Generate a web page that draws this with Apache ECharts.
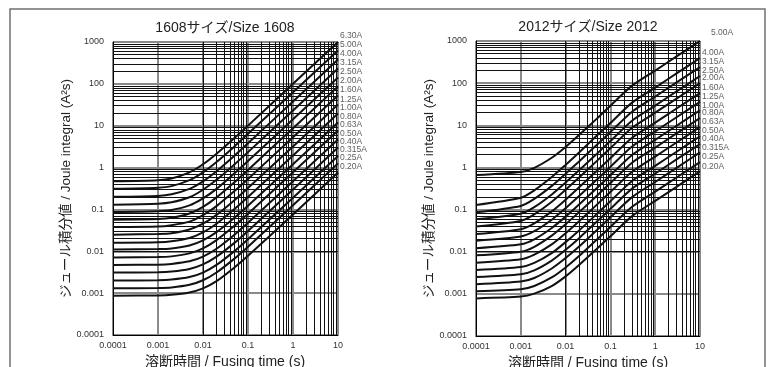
<!DOCTYPE html>
<html>
<head>
<meta charset="utf-8">
<script src="https://cdn.jsdelivr.net/npm/echarts@6/dist/echarts.min.js"></script>
<style>
html,body{margin:0;padding:0;background:#fff;}
#c{width:770px;height:367px;}
</style>
</head>
<body>
<div id="c"></div>
<script>
// ---------- DATA ----------
const chartTitles = ['1608サイズ/Size 1608', '2012サイズ/Size 2012'];
const xTickLabels = ['0.0001', '0.001', '0.01', '0.1', '1', '10'];
const yTickLabels = ['0.0001', '0.001', '0.01', '0.1', '1', '10', '100', '1000'];
const xAxisName = '溶断時間 / Fusing time (s)';
const yAxisName = 'ジュール積分値 / Joule integral (A²s)';

// 1608 size: fusing time (s) and I²t (A²s)
const time1608 = [0.0001, 0.001, 0.002, 0.005, 0.01, 0.02, 0.05, 0.1, 1, 10];
const ratings1608 = ['6.30A', '5.00A', '4.00A', '3.15A', '2.50A', '2.00A', '1.60A', '1.25A', '1.00A', '0.80A', '0.63A', '0.50A', '0.40A', '0.315A', '0.25A', '0.20A'];
const s1608_630 = [0.47, 0.50, 0.55, 0.77, 1.20, 2.15, 5.1, 10.05, 100, 1000];
const s1608_500 = [0.31, 0.33, 0.36, 0.50, 0.77, 1.36, 3.2, 6.4, 63, 630];
const s1608_400 = [0.20, 0.21, 0.23, 0.31, 0.47, 0.82, 1.92, 3.8, 38, 380];
const s1608_315 = [0.13, 0.137, 0.148, 0.195, 0.295, 0.51, 1.19, 2.34, 23.2, 232];
const s1608_250 = [0.087, 0.091, 0.097, 0.125, 0.184, 0.31, 0.73, 1.44, 14.2, 142];
const s1608_200 = [0.057, 0.059, 0.063, 0.080, 0.115, 0.194, 0.445, 0.88, 8.7, 87];
const s1608_160 = [0.038, 0.039, 0.042, 0.051, 0.073, 0.120, 0.274, 0.535, 5.3, 53];
const s1608_125 = [0.025, 0.026, 0.027, 0.033, 0.0455, 0.074, 0.166, 0.325, 3.2, 32];
const s1608_100 = [0.016, 0.0164, 0.0173, 0.0208, 0.0283, 0.0456, 0.102, 0.198, 1.95, 19.5];
const s1608_080 = [0.011, 0.0113, 0.0117, 0.0138, 0.0183, 0.0286, 0.063, 0.122, 1.2, 12];
const s1608_063 = [0.0071, 0.00727, 0.00756, 0.0089, 0.0118, 0.0185, 0.0406, 0.079, 0.77, 7.7];
const s1608_050 = [0.0047, 0.0048, 0.0050, 0.00575, 0.00746, 0.0115, 0.0249, 0.048, 0.47, 4.7];
const s1608_040 = [0.0031, 0.00316, 0.00328, 0.00377, 0.00485, 0.00744, 0.0159, 0.0307, 0.30, 3.0];
const s1608_0315 = [0.0020, 0.00204, 0.00211, 0.00242, 0.0031, 0.00472, 0.0101, 0.0194, 0.19, 1.9];
const s1608_025 = [0.0013, 0.00133, 0.00137, 0.00158, 0.00203, 0.00312, 0.00668, 0.0129, 0.126, 1.26];
const s1608_020 = [0.00087, 0.00088, 0.00091, 0.00104, 0.0013, 0.00193, 0.0041, 0.0078, 0.076, 0.76];
// where each rating label sits (I²t value at the right edge)
const labelAt1608 = [1390, 848, 517, 315, 192, 117, 71, 43, 26.5, 16.1, 10.4, 6.3, 4.1, 2.63, 1.69, 1.03];

// 2012 size
const time2012 = [0.0001, 0.001, 0.002, 0.005, 0.01, 0.02, 0.05, 0.1, 0.3, 1, 3, 10];
const ratings2012 = ['5.00A', '4.00A', '3.15A', '2.50A', '2.00A', '1.60A', '1.25A', '1.00A', '0.80A', '0.63A', '0.50A', '0.40A', '0.315A', '0.25A', '0.20A'];
const s2012_500 = [0.66, 0.78, 0.98, 1.72, 3.06, 5.9, 14.4, 29, 86, 199, 430, 1000];
const s2012_400 = [0.128, 0.19, 0.286, 0.60, 1.15, 2.27, 5.7, 11.3, 34, 78.6, 170, 395];
const s2012_315 = [0.086, 0.122, 0.179, 0.37, 0.71, 1.39, 3.45, 6.9, 20.7, 48, 104, 241];
const s2012_250 = [0.059, 0.080, 0.114, 0.231, 0.437, 0.855, 2.12, 4.23, 12.7, 29.4, 63.6, 148];
const s2012_200 = [0.0395, 0.0538, 0.0768, 0.155, 0.294, 0.575, 1.43, 2.86, 8.6, 19.9, 43, 100];
const s2012_160 = [0.0263, 0.0343, 0.0473, 0.092, 0.172, 0.338, 0.83, 1.66, 5.0, 11.6, 25, 58];
const s2012_125 = [0.0182, 0.0229, 0.0306, 0.0583, 0.108, 0.209, 0.52, 1.03, 3.09, 7.2, 15.5, 36];
const s2012_100 = [0.0121, 0.015, 0.0197, 0.0371, 0.068, 0.132, 0.325, 0.65, 1.95, 4.52, 9.76, 22.7];
const s2012_080 = [0.0082, 0.0100, 0.0131, 0.0245, 0.0449, 0.087, 0.214, 0.427, 1.28, 2.96, 6.4, 14.9];
const s2012_063 = [0.0055, 0.0066, 0.0085, 0.0152, 0.0275, 0.053, 0.131, 0.261, 0.78, 1.81, 3.91, 9.1];
const s2012_050 = [0.0037, 0.00435, 0.00544, 0.0094, 0.0169, 0.032, 0.079, 0.158, 0.47, 1.09, 2.36, 5.5];
const s2012_040 = [0.0025, 0.00292, 0.00362, 0.00625, 0.0111, 0.021, 0.052, 0.104, 0.31, 0.717, 1.55, 3.6];
const s2012_0315 = [0.0017, 0.00196, 0.00238, 0.00405, 0.00706, 0.0133, 0.0328, 0.0655, 0.195, 0.452, 0.976, 2.27];
const s2012_025 = [0.00115, 0.00129, 0.00154, 0.00248, 0.00423, 0.0079, 0.0195, 0.0388, 0.115, 0.267, 0.576, 1.34];
const s2012_020 = [0.00078, 0.00086, 0.00101, 0.00155, 0.0026, 0.00484, 0.0117, 0.0233, 0.069, 0.161, 0.347, 0.81];
const labelAt2012 = [1550, 519, 317, 194, 132, 77, 46.8, 30, 19.5, 11.9, 7.3, 4.7, 3.0, 1.76, 1.07];

// ---------- BUILD ----------
const curves1608 = [s1608_630, s1608_500, s1608_400, s1608_315, s1608_250, s1608_200, s1608_160, s1608_125,
  s1608_100, s1608_080, s1608_063, s1608_050, s1608_040, s1608_0315, s1608_025, s1608_020];
const curves2012 = [s2012_500, s2012_400, s2012_315, s2012_250, s2012_200, s2012_160, s2012_125,
  s2012_100, s2012_080, s2012_063, s2012_050, s2012_040, s2012_0315, s2012_025, s2012_020];

const FONT = '"Liberation Sans", Arial, "Noto Sans CJK JP", sans-serif';

function tickFmt(labels, minExp) {
  return function (v) {
    const i = Math.round(Math.log10(v)) - minExp;
    return labels[i] !== undefined ? labels[i] : '';
  };
}

// minor grid values 2..9 per decade
function minorValues(minExp, maxExp) {
  const out = [];
  for (let e = minExp; e < maxExp; e++) {
    for (let m = 2; m <= 9; m++) out.push(+(m * Math.pow(10, e)).toPrecision(3));
  }
  return out;
}

const grids = [
  { left: 113, top: 42, width: 225, height: 293 },
  { left: 476, top: 41, width: 224, height: 295 }
];

const xAxes = [], yAxes = [], series = [];
[0, 1].forEach(function (g) {
  xAxes.push({
    gridIndex: g, type: 'log', logBase: 10, min: 0.0001, max: 10, interval: 1,
    axisLine: { show: true, lineStyle: { color: '#000', width: 1 } },
    axisTick: { show: false },
    axisLabel: { formatter: tickFmt(xTickLabels, -4), fontSize: 9, color: '#333', margin: 6,
      fontFamily: FONT, showMinLabel: true, showMaxLabel: true },
    splitLine: { show: true, lineStyle: { color: '#8a8a8a', width: 2 } }
  });
  yAxes.push({
    gridIndex: g, type: 'log', logBase: 10, min: 0.0001, max: 1000, interval: 1,
    axisLine: { show: true, lineStyle: { color: '#000', width: 1 } },
    axisTick: { show: false },
    axisLabel: { formatter: tickFmt(yTickLabels, -4), fontSize: 9, color: '#333', margin: 9,
      fontFamily: FONT, showMinLabel: true, showMaxLabel: true },
    splitLine: { show: true, lineStyle: { color: '#8a8a8a', width: 2 } },
    name: yAxisName, nameLocation: 'middle', nameGap: 38, nameRotate: 90,
    nameTextStyle: { fontSize: 13.5, color: '#222', fontFamily: FONT }
  });
  // minor grid lines via markLine
  const xm = minorValues(-4, 1).map(function (v) { return { xAxis: v }; });
  const ym = minorValues(-4, 3).map(function (v) { return { yAxis: v }; });
  series.push({
    type: 'line', xAxisIndex: g, yAxisIndex: g, data: [[0.0001, 0.0001]], showSymbol: false,
    lineStyle: { opacity: 0 }, silent: true, z: 1,
    markLine: { silent: true, symbol: ['none', 'none'], label: { show: false }, animation: false,
      lineStyle: { color: '#111', width: 1, type: 'solid' }, data: xm.concat(ym) }
  });
});

function addCurves(g, times, curves, ratings, labelAt, extraFirstOffset) {
  curves.forEach(function (vals, i) {
    series.push({
      type: 'line', xAxisIndex: g, yAxisIndex: g, name: ratings[i],
      data: times.map(function (t, k) { return [t, vals[k]]; }),
      smooth: 0.25, showSymbol: false, z: 5,
      lineStyle: { color: '#111', width: 2 }, silent: true
    });
  });
  series.push({
    type: 'scatter', xAxisIndex: g, yAxisIndex: g, clip: false, symbolSize: 0, silent: true, z: 6,
    data: labelAt.map(function (v, i) {
      return {
        value: [10, v],
        label: { show: true, position: 'right', formatter: ratings[i],
          offset: [(i === 0 ? extraFirstOffset : 0), 0] }
      };
    }),
    label: { show: true, position: 'right', distance: 2, fontSize: 8.5, color: '#333', fontFamily: FONT }
  });
}
addCurves(0, time1608, curves1608, ratings1608, labelAt1608, 0);
addCurves(1, time2012, curves2012, ratings2012, labelAt2012, 9);

const chart = echarts.init(document.getElementById('c'), null, { renderer: 'canvas' });
chart.setOption({
  animation: false,
  backgroundColor: '#fff',
  grid: grids.map(function (g) {
    return Object.assign({ show: true, borderColor: '#000', borderWidth: 1, backgroundColor: 'transparent',
      containLabel: false, outerBoundsMode: 'none' }, g);
  }),
  xAxis: xAxes,
  yAxis: yAxes,
  series: series,
  graphic: [
    { type: 'rect', shape: { x: 10, y: 9, width: 755, height: 420 },
      style: { fill: 'none', stroke: '#707070', lineWidth: 1.5 }, z: 0, silent: true },
    { type: 'text', x: 225, y: 28, style: { text: chartTitles[0], font: '14px ' + FONT, fill: '#222',
      align: 'center', verticalAlign: 'middle' }, silent: true },
    { type: 'text', x: 588, y: 27, style: { text: chartTitles[1], font: '14px ' + FONT, fill: '#222',
      align: 'center', verticalAlign: 'middle' }, silent: true },
    // x-axis names sit partly below the frame edge, as in the source
    { type: 'text', x: 225, y: 362, style: { text: xAxisName, font: '14px ' + FONT, fill: '#222',
      align: 'center', verticalAlign: 'middle' }, silent: true },
    { type: 'text', x: 588, y: 363, style: { text: xAxisName, font: '14px ' + FONT, fill: '#222',
      align: 'center', verticalAlign: 'middle' }, silent: true }
  ]
});
</script>
</body>
</html>
